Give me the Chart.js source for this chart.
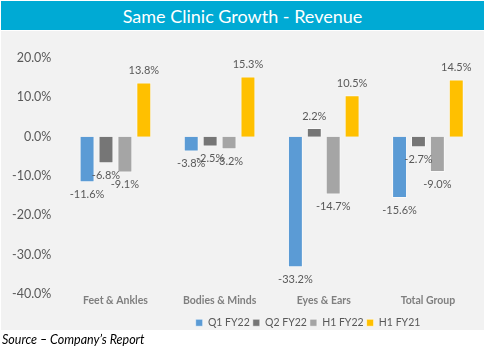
<!DOCTYPE html>
<html>
<head>
<meta charset="utf-8">
<script src="https://cdn.jsdelivr.net/npm/chart.js@4/dist/chart.umd.min.js"></script>
<style>
  html, body { margin:0; padding:0; background:#fff; width:486px; height:352px; overflow:hidden; }
  #title { position:absolute; left:1px; top:1px; width:483px; height:29px; background:#00AAD4;
           color:#fff; font-family:Lato, "Open Sans", sans-serif; font-size:18px; line-height:31px; text-align:center; }
  #panel { position:absolute; left:1px; top:31px; width:483px; height:299px; background:#F2F2F2; }
  #wrap { position:absolute; left:0; top:0; width:486px; height:352px; }
  #src { position:absolute; left:2px; top:332px; font-family:Lato, "Open Sans", sans-serif; font-style:italic; font-size:12.5px; color:#000; }
</style>
</head>
<body>
<div id="title">Same Clinic Growth - Revenue</div>
<div id="panel"></div>
<div id="wrap"><canvas id="c" width="486" height="352"></canvas></div>
<div id="src">Source – Company’s Report</div>
<script>
const categories = ["Feet & Ankles", "Bodies & Minds", "Eyes & Ears", "Total Group"];
const seriesNames = ["Q1 FY22", "Q2 FY22", "H1 FY22", "H1 FY21"];
const q1FY22 = [-11.6, -3.8, -33.2, -15.6];
const q2FY22 = [-6.8, -2.5, 2.2, -2.7];
const h1FY22 = [-9.1, -3.2, -14.7, -9.0];
const h1FY21 = [13.8, 15.3, 10.5, 14.5];
const yTicks = [20, 10, 0, -10, -20, -30, -40];

const colors = ["#5B9BD5", "#767676", "#A5A5A5", "#FFC000"];
const allData = [q1FY22, q2FY22, h1FY22, h1FY21];
const FONT = 'Lato, "Open Sans", sans-serif';

const labelPlugin = {
  id: 'barLabels',
  afterDatasetsDraw(chart) {
    const ctx = chart.ctx;
    ctx.save();
    ctx.font = '11px ' + FONT;
    ctx.fillStyle = '#595959';
    ctx.textAlign = 'center';
    ctx.textBaseline = 'middle';
    chart.data.datasets.forEach((ds, i) => {
      const meta = chart.getDatasetMeta(i);
      meta.data.forEach((bar, j) => {
        const v = ds.data[j];
        const y = v >= 0 ? bar.y - 12 : bar.y + 12;
        ctx.fillText(v.toFixed(1) + '%', bar.x, y);
      });
    });
    ctx.restore();
  }
};

const EXTRA = 8;
const legendShift = {
  id: 'legendShift',
  afterInit(chart) {
    const lg = chart.legend;
    if (lg && !lg._patched) {
      const orig = lg.fit;
      lg.fit = function () { orig.call(this); this.height += EXTRA; };
      lg._patched = true;
    }
  },
  afterLayout(chart) {
    const lg = chart.legend;
    if (lg) { lg.left += 68; lg.right += 68; lg.top += EXTRA; lg.bottom += EXTRA; }
  }
};

new Chart(document.getElementById('c'), {
  type: 'bar',
  data: {
    labels: categories,
    datasets: seriesNames.map((n, i) => ({
      label: n,
      data: allData[i],
      backgroundColor: colors[i],
      borderColor: 'rgba(255,255,255,0.55)',
      borderWidth: 1,
      categoryPercentage: 0.726,
      barPercentage: 0.79
    }))
  },
  options: {
    responsive: false,
    animation: false,
    layout: { padding: { top: 58, left: 0, right: 6, bottom: 14 } },
    plugins: {
      legend: {
        position: 'bottom',
        labels: {
          boxWidth: 7, boxHeight: 7, padding: 3,
          color: '#595959',
          font: { family: FONT, size: 10.5 }
        }
      },
      tooltip: { enabled: false },
      title: { display: false }
    },
    scales: {
      x: {
        grid: { display: false, drawTicks: false },
        border: { display: false },
        ticks: { color: '#7F7F7F', font: { family: FONT, size: 10.5, weight: 'bold' }, padding: 0 }
      },
      y: {
        min: -40, max: 20,
        afterBuildTicks(axis) { axis.ticks = yTicks.map(v => ({ value: v })); },
        grid: { display: false, drawTicks: false },
        border: { display: false },
        ticks: {
          color: '#595959',
          font: { family: FONT, size: 12.5 },
          padding: 12,
          callback: v => v.toFixed(1) + '%'
        }
      }
    }
  },
  plugins: [labelPlugin, legendShift]
});
</script>
</body>
</html>
